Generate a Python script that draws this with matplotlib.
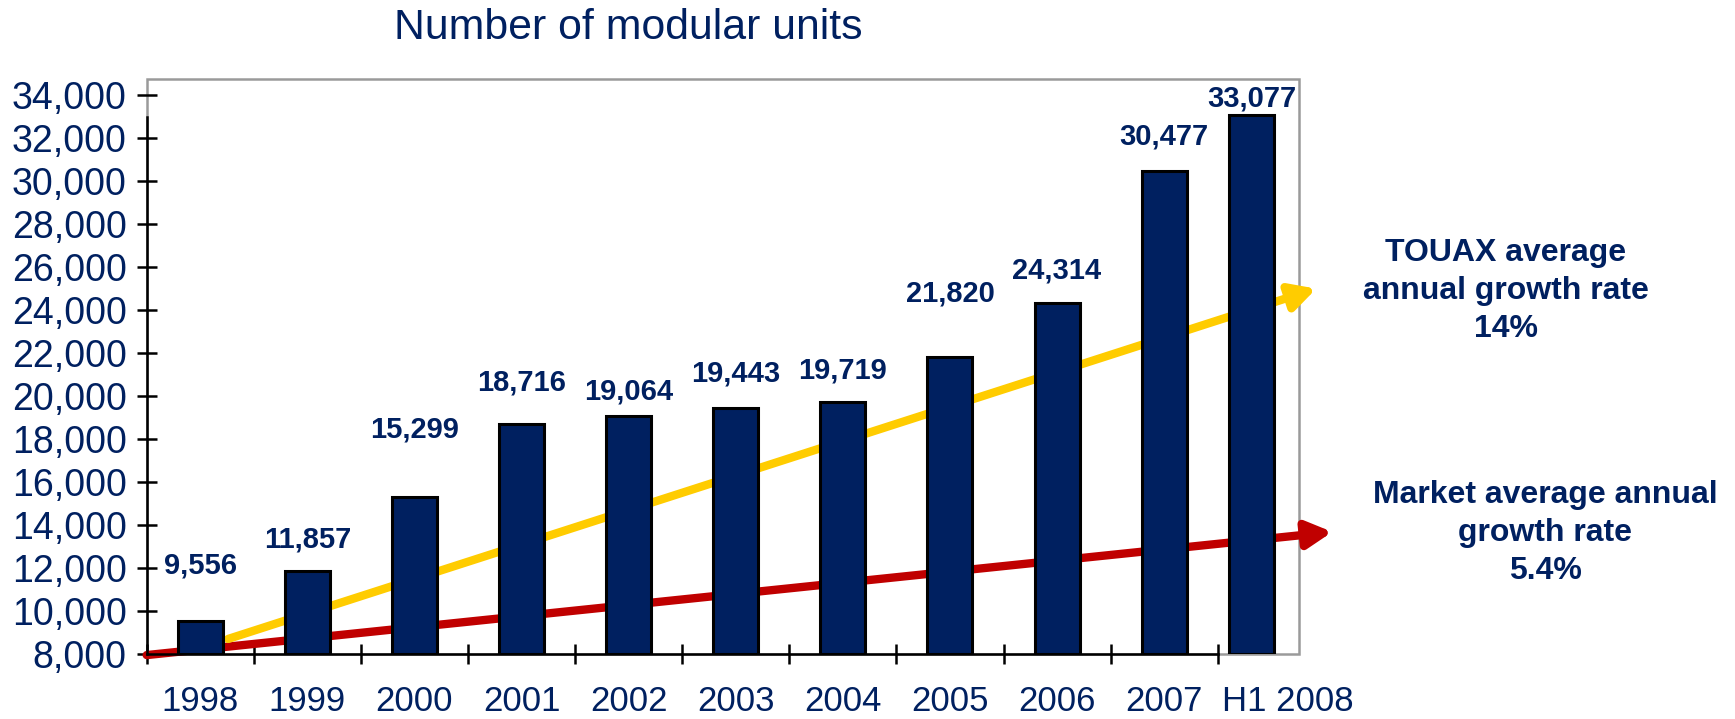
import numpy as np
import matplotlib
matplotlib.use("Agg")
import matplotlib.pyplot as plt
from matplotlib.patches import Rectangle

plt.rcParams['font.family'] = ['Liberation Sans', 'DejaVu Sans']

# ---------------- data ----------------
categories = ["1998", "1999", "2000", "2001", "2002", "2003", "2004",
              "2005", "2006", "2007", "H1 2008"]
units = [9556, 11857, 15299, 18716, 19064, 19443, 19719,
         21820, 24314, 30477, 33077]
bar_labels = ["9,556", "11,857", "15,299", "18,716", "19,064", "19,443",
              "19,719", "21,820", "24,314", "30,477", "33,077"]
y_ticks = list(range(8000, 36000, 2000))

# trend arrows (category-index, units)
touax_trend_x = [0.26, 10.42]
touax_trend_y = [8700, 25000]
market_trend_x = [-0.5, 10.57]
market_trend_y = [7950, 13680]

title = "Number of modular units"
touax_text = "TOUAX average\nannual growth rate\n14%"
market_text = "Market average annual\ngrowth rate\n5.4%"

# ---------------- layout / style ----------------
NAVY = "#002060"
YELLOW = "#FFCC00"
RED = "#C00000"
GRAY = "#9A9A9A"

# label gaps above bar tops (points)
label_gap_pt = [40, 23, 49, 30, 18, 25, 23, 46, 24, 25, 12]

fig = plt.figure(figsize=(17.35, 7.19), dpi=100)
ax = fig.add_axes([146.7 / 1735, 1 - 654 / 719, (1299 - 146.7) / 1735, (654 - 79) / 719])

n = len(units)
x = np.arange(n, dtype=float)
x[-1] -= 0.18          # last (half-year) bar sits closer
label_x = x.copy()
label_x[-1] += 0.33

ymin, ymax = 8000, 34755
ax.set_xlim(-0.5, 10.259)
ax.set_ylim(ymin, ymax)

heights = [v - ymin for v in units]
bars = ax.bar(x, heights, bottom=ymin, width=0.42, color=NAVY,
              edgecolor="black", linewidth=2.2, zorder=3)

for xi, v, lab, g in zip(x, units, bar_labels, label_gap_pt):
    ax.annotate(lab, (xi, v), xytext=(0, g), textcoords="offset points",
                ha="center", va="center", fontsize=21, fontweight="bold",
                color=NAVY, zorder=5, annotation_clip=False)

# trend arrows (behind bars)
for tx, ty, col in ((market_trend_x, market_trend_y, RED),
                    (touax_trend_x, touax_trend_y, YELLOW)):
    ax.annotate("", xy=(tx[1], ty[1]), xytext=(tx[0], ty[0]),
                arrowprops=dict(arrowstyle="-|>,head_length=0.75,head_width=0.4",
                                color=col, lw=6, shrinkA=0, shrinkB=0,
                                mutation_scale=20),
                annotation_clip=False, zorder=2)

# frame: gray box plus black left/bottom axis lines
for s in ax.spines.values():
    s.set_visible(False)
ax.add_patch(Rectangle((0, 0), 1, 1, transform=ax.transAxes, fill=False,
                       edgecolor=GRAY, linewidth=1.8, zorder=1, clip_on=False))
for side, lo, hi in (("left", 8000, 33000), ("bottom", -0.5, 9.5)):
    sp = ax.spines[side]
    sp.set_visible(True)
    sp.set_bounds(lo, hi)
    sp.set_color("black")
    sp.set_linewidth(1.8)
    sp.set_zorder(4)

# y ticks
ax.set_yticks(y_ticks)
ax.set_yticklabels([f"{t:,}" for t in y_ticks])
ax.tick_params(axis="y", direction="inout", length=15, width=1.8,
               labelsize=27, labelcolor=NAVY, pad=7)

# x ticks: marks at category boundaries, labels at centres
ax.set_xticks(np.arange(-0.5, 10.0, 1.0))
ax.set_xticklabels([])
ax.tick_params(axis="x", which="major", direction="inout", length=15, width=1.8)
ax.set_xticks(label_x, minor=True)
ax.set_xticklabels(categories, minor=True)
ax.tick_params(axis="x", which="minor", length=0, labelsize=25,
               labelcolor=NAVY, pad=22)

# title & side texts
fig.text(628 / 1735, 1 - 39 / 719, title, ha="center", va="baseline",
         fontsize=30.8, color=NAVY)
fig.text(1506 / 1735, 1 - 291 / 719, touax_text, ha="center", va="center",
         multialignment="center", fontsize=23, fontweight="bold",
         color=NAVY, linespacing=1.33)
fig.text(1545 / 1735, 1 - 533 / 719, market_text, ha="center", va="center",
         multialignment="center", fontsize=23, fontweight="bold",
         color=NAVY, linespacing=1.33)

fig.savefig("out.png", dpi=100)
